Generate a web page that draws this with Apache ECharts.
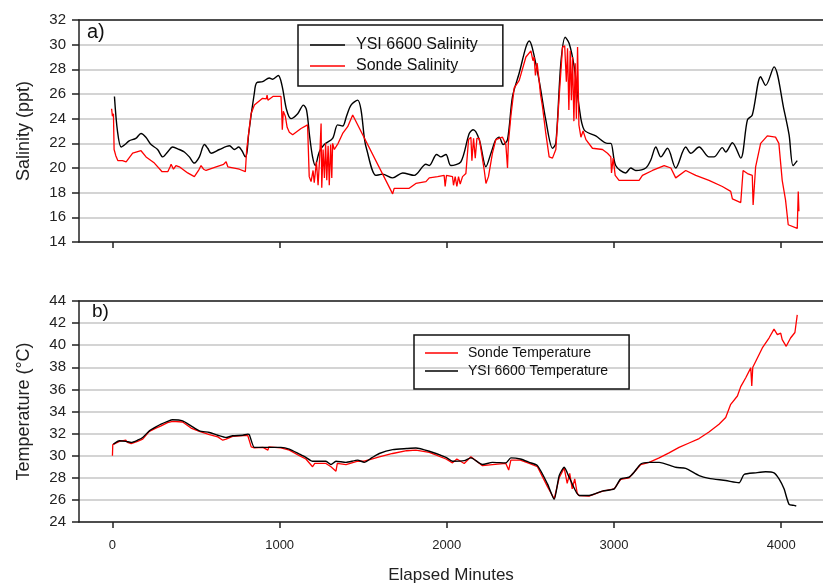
<!DOCTYPE html>
<html>
<head>
<meta charset="utf-8">
<script src="https://cdn.jsdelivr.net/npm/echarts@6/dist/echarts.min.js"></script>
<style>html,body{margin:0;padding:0;background:#fff;}#c{width:823px;height:585px;}</style>
</head>
<body>
<div id="c"></div>
<script>
// X tick labels (Elapsed Minutes)
const xTicks = [0, 1000, 2000, 3000, 4000];

// a) YSI 6600 Salinity
const ysiSalT = [12,30,52,75,100,140,171,200,231,270,301,330,360,400,430,460,490,520,550,570,590,640,700,730,755,775,795,805,815,849,862,898,938,958,992,1014,1042,1068,1108,1142,1161,1180,1197,1213,1237,1267,1317,1347,1377,1400,1427,1467,1487,1506,1517,1576,1616,1676,1736,1805,1875,1895,1939,1965,1995,2024,2084,2134,2158,2194,2234,2264,2293,2313,2337,2363,2393,2433,2473,2493,2512,2552,2592,2632,2652,2682,2708,2732,2762,2791,2821,2891,2961,2981,3010,3070,3100,3130,3190,3220,3250,3280,3320,3369,3429,3459,3509,3568,3598,3648,3668,3708,3758,3798,3827,3877,3907,3957,4017,4047,4071,4096];
const ysiSalV = [25.8,23.0,21.7,21.9,22.2,22.4,22.8,22.5,21.9,21.5,20.9,21.3,21.7,21.5,21.3,20.9,20.4,20.9,21.9,21.6,21.2,21.5,21.8,21.5,21.7,21.4,20.9,21.3,22.8,26.1,26.9,27.0,27.3,27.2,27.5,26.7,24.7,24.0,24.4,25.1,24.7,22.5,20.9,20.2,21.3,21.9,22.4,23.5,23.4,24.2,25.1,25.5,24.7,22.5,21.7,19.4,19.5,19.2,19.6,19.4,20.3,20.2,21.1,20.9,21.1,20.2,20.5,22.8,23.1,22.3,20.1,21.2,22.3,22.5,21.9,22.3,25.8,27.7,29.8,30.3,29.7,27.1,23.9,21.6,22.0,28.5,30.6,30.1,28.2,25.0,23.1,22.6,22.0,22.0,20.2,19.6,20.0,19.8,20.0,20.65,21.7,20.9,21.6,20.0,21.7,21.2,21.7,20.9,20.9,21.65,21.3,22.05,20.8,23.9,24.3,27.4,26.7,28.2,24.7,22.7,20.2,20.6];

// a) Sonde Salinity
const sondeSalT = [-5,0,6,10,20,32,60,82,121,171,201,251,297,331,345,351,365,380,400,450,490,515,530,545,560,620,665,680,690,700,759,795,803,829,849,898,920,925,930,960,1008,1012,1016,1022,1034,1045,1058,1078,1128,1167,1177,1188,1200,1207,1220,1230,1240,1248,1252,1260,1268,1275,1282,1290,1297,1305,1312,1317,1327,1350,1377,1407,1437,1446,1676,1685,1715,1775,1815,1875,1895,1945,1984,1990,1998,2034,2040,2050,2060,2070,2080,2094,2114,2130,2144,2150,2160,2170,2180,2194,2224,2234,2249,2273,2293,2333,2353,2363,2368,2383,2403,2433,2473,2503,2515,2522,2530,2540,2552,2560,2572,2592,2612,2632,2652,2672,2692,2705,2715,2722,2730,2738,2745,2752,2760,2768,2775,2782,2790,2802,2815,2832,2871,2931,2961,2981,2985,2995,3007,3030,3070,3150,3170,3230,3300,3340,3369,3429,3489,3568,3648,3698,3708,3758,3772,3798,3827,3832,3847,3877,3917,3966,3986,4006,4026,4042,4096,4102,4106];
const sondeSalV = [24.8,24.2,24.4,21.5,21.0,20.6,20.6,20.5,21.2,21.4,20.9,20.4,19.7,19.7,20.1,20.3,19.9,20.2,20.1,19.6,19.3,19.8,20.2,19.9,19.8,20.1,20.3,20.5,20.1,20.1,19.9,19.7,21.5,24.4,25.1,25.65,25.6,25.9,25.5,25.8,25.8,24.7,23.1,24.6,24.2,23.3,22.9,22.7,23.2,23.5,19.3,18.9,19.8,18.8,20.5,18.6,21.0,23.6,18.4,21.5,19.2,22.0,19.0,21.8,18.6,21.9,19.2,22.0,21.5,22.0,22.8,23.35,24.3,24.2,17.9,18.35,18.35,18.35,18.75,18.9,19.2,19.3,19.4,18.5,19.4,19.3,18.6,19.3,18.5,19.3,18.7,19.3,19.55,22.3,22.5,20.6,22.4,20.8,22.4,22.4,19.8,18.75,19.3,21.2,22.3,22.5,21.9,20.0,22.0,24.2,26.5,27.1,29.0,29.5,28.7,29.0,27.5,28.5,27.1,26.0,25.0,22.8,20.9,20.8,21.5,25.8,29.8,29.9,27.0,29.7,24.7,29.5,25.5,29.0,23.8,28.5,24.0,29.8,23.5,22.5,23.0,22.3,21.6,21.5,21.2,20.9,19.6,20.8,19.4,19.0,19.0,19.0,19.4,19.8,20.2,20.0,19.2,19.8,19.4,19.0,18.5,18.1,17.5,17.2,19.8,19.55,19.4,17.0,20.1,22.0,22.6,22.5,22.0,19.0,17.4,15.4,15.1,18.1,16.5];

// b) Sonde Temperature
const sondeTempT = [0,2,42,80,90,112,150,181,221,260,291,330,360,420,470,520,580,630,660,680,719,809,830,849,900,930,935,1008,1058,1118,1157,1197,1210,1277,1307,1337,1345,1397,1467,1506,1550,1596,1676,1760,1815,1895,1995,2034,2060,2104,2144,2213,2273,2353,2370,2383,2440,2493,2542,2602,2642,2672,2702,2720,2735,2750,2765,2780,2791,2851,2931,3001,3040,3090,3120,3160,3210,3270,3329,3389,3449,3509,3568,3628,3668,3698,3738,3758,3788,3818,3824,3830,3848,3887,3927,3957,3977,3997,4006,4030,4056,4082,4096];
const sondeTempV = [30.0,31.0,31.3,31.4,31.2,31.1,31.3,31.5,32.2,32.5,32.7,33.0,33.1,33.05,32.5,32.2,31.9,31.7,31.4,31.5,31.75,31.85,30.8,30.7,30.75,30.5,30.8,30.7,30.5,30.0,29.7,29.0,29.3,29.3,29.0,28.6,29.3,29.2,29.5,29.5,29.7,29.9,30.2,30.45,30.5,30.3,29.7,29.35,29.7,29.3,29.9,29.1,29.2,29.3,28.7,29.6,29.6,29.3,29.0,27.2,26.1,28.0,28.9,27.5,28.4,27.0,27.9,26.6,26.4,26.35,26.8,27.0,27.85,28.0,28.5,29.2,29.4,29.8,30.25,30.75,31.15,31.55,32.15,32.85,33.45,34.65,35.4,36.25,37.05,37.95,36.3,38.0,38.55,39.75,40.65,41.45,40.95,41.1,40.5,39.9,40.65,41.15,42.75];

// b) YSI 6600 Temperature
const ysiTempT = [6,42,80,112,150,181,221,260,291,330,360,420,470,520,580,630,680,719,780,809,819,849,900,1008,1058,1118,1157,1197,1277,1307,1337,1397,1467,1506,1550,1596,1676,1760,1815,1895,1995,2034,2104,2144,2213,2273,2353,2383,2440,2493,2542,2602,2642,2672,2702,2732,2791,2851,2931,3001,3040,3090,3120,3160,3210,3270,3369,3429,3509,3568,3668,3748,3778,3848,3907,3957,3987,4017,4047,4077,4090];
const ysiTempV = [31.05,31.35,31.3,31.2,31.4,31.65,32.25,32.6,32.85,33.1,33.25,33.15,32.7,32.25,32.1,31.85,31.65,31.8,31.85,31.95,31.9,30.75,30.75,30.75,30.6,30.15,29.85,29.5,29.5,29.2,29.5,29.4,29.6,29.4,29.8,30.2,30.55,30.65,30.7,30.4,29.85,29.5,29.55,29.8,29.2,29.4,29.35,29.8,29.7,29.4,29.1,27.45,26.05,28.2,28.95,28.05,26.4,26.4,26.8,27.0,27.9,28.05,28.5,29.25,29.4,29.4,28.95,28.85,28.2,27.95,27.75,27.55,28.3,28.45,28.55,28.45,27.9,27.0,25.6,25.5,25.45];

const zip = (t, v) => t.map((x, i) => [x, v[i]]);

const FONT = 'Liberation Sans, Arial, sans-serif';
const AX = '#222';
const axisLine = {show: true, onZero: false, lineStyle: {color: AX, width: 1.5}};
const gridLine = {show: true, lineStyle: {color: '#c6c6c6', width: 1.5}};

function bottomX(gi, labels) {
  return {
    gridIndex: gi, type: 'value', min: -200, max: 4250, position: 'bottom',
    axisLine: axisLine,
    axisTick: {show: true, customValues: xTicks, length: 6, inside: false, lineStyle: {color: AX, width: 1.5}},
    axisLabel: labels ? {show: true, customValues: xTicks, fontSize: 13, color: AX, margin: 17, fontFamily: FONT,
      formatter: v => String(v)} : {show: false},
    splitLine: {show: false},
    name: labels ? 'Elapsed Minutes' : '', nameLocation: 'middle', nameGap: 45,
    nameTextStyle: {fontSize: 17, color: AX, fontFamily: FONT}
  };
}
function topX(gi) {
  return {
    gridIndex: gi, type: 'value', min: -200, max: 4250, position: 'top',
    axisLine: axisLine, axisTick: {show: false}, axisLabel: {show: false}, splitLine: {show: false}
  };
}
function yAx(gi, mn, mx, name) {
  return {
    gridIndex: gi, type: 'value', min: mn, max: mx, interval: 2, position: 'left',
    axisLine: axisLine,
    axisTick: {show: true, length: 7, lineStyle: {color: AX, width: 1.5}},
    axisLabel: {fontSize: 15, color: AX, margin: 13, fontFamily: FONT},
    splitLine: gridLine,
    name: name, nameLocation: 'middle', nameGap: 46,
    nameTextStyle: {fontSize: 18, color: AX, fontFamily: FONT}
  };
}

const chart = echarts.init(document.getElementById('c'), null, {renderer: 'canvas'});
chart.setOption({
  animation: false,
  backgroundColor: '#fff',
  textStyle: {fontFamily: FONT},
  grid: [
    {left: 79, right: 0, top: 20, height: 222},
    {left: 79, right: 0, top: 301, height: 222}
  ],
  xAxis: [bottomX(0, false), topX(0), bottomX(1, true), topX(1)],
  yAxis: [yAx(0, 14, 32, 'Salinity (ppt)'), yAx(1, 24, 44, 'Temperature (°C)')],
  legend: [
    {
      data: ['YSI 6600 Salinity', 'Sonde Salinity'],
      orient: 'vertical', left: 298, top: 25,
      icon: 'rect', itemWidth: 35, itemHeight: 1.5, itemGap: 5,
      padding: [12, 25, 12, 12],
      borderColor: '#111', borderWidth: 1.5, borderRadius: 0,
      textStyle: {fontSize: 16, color: '#111', fontFamily: FONT, padding: [0, 0, 0, 6]}
    },
    {
      data: ['Sonde Temperature', 'YSI 6600 Temperature'],
      orient: 'vertical', left: 414, top: 335,
      icon: 'rect', itemWidth: 33, itemHeight: 1.5, itemGap: 4,
      padding: [11, 21, 11, 11],
      borderColor: '#111', borderWidth: 1.5, borderRadius: 0,
      textStyle: {fontSize: 14, color: '#111', fontFamily: FONT, padding: [0, 0, 0, 5]}
    }
  ],
  graphic: [
    {type: 'text', left: 87, top: 22, style: {text: 'a)', fontSize: 20, fill: '#111', fontFamily: FONT}},
    {type: 'text', left: 92, top: 302, style: {text: 'b)', fontSize: 19, fill: '#111', fontFamily: FONT}}
  ],
  series: [
    {name: 'YSI 6600 Salinity', type: 'line', xAxisIndex: 0, yAxisIndex: 0, data: zip(ysiSalT, ysiSalV),
     showSymbol: false, smooth: 0.3, color: '#000', lineStyle: {width: 1.4, color: '#000'}},
    {name: 'Sonde Salinity', type: 'line', xAxisIndex: 0, yAxisIndex: 0, data: zip(sondeSalT, sondeSalV),
     showSymbol: false, color: '#ff0000', lineStyle: {width: 1.3, color: '#ff0000'}},
    {name: 'Sonde Temperature', type: 'line', xAxisIndex: 2, yAxisIndex: 1, data: zip(sondeTempT, sondeTempV),
     showSymbol: false, color: '#ff0000', lineStyle: {width: 1.3, color: '#ff0000'}},
    {name: 'YSI 6600 Temperature', type: 'line', xAxisIndex: 2, yAxisIndex: 1, data: zip(ysiTempT, ysiTempV),
     showSymbol: false, smooth: 0.2, color: '#000', lineStyle: {width: 1.4, color: '#000'}}
  ]
});
</script>
</body>
</html>
